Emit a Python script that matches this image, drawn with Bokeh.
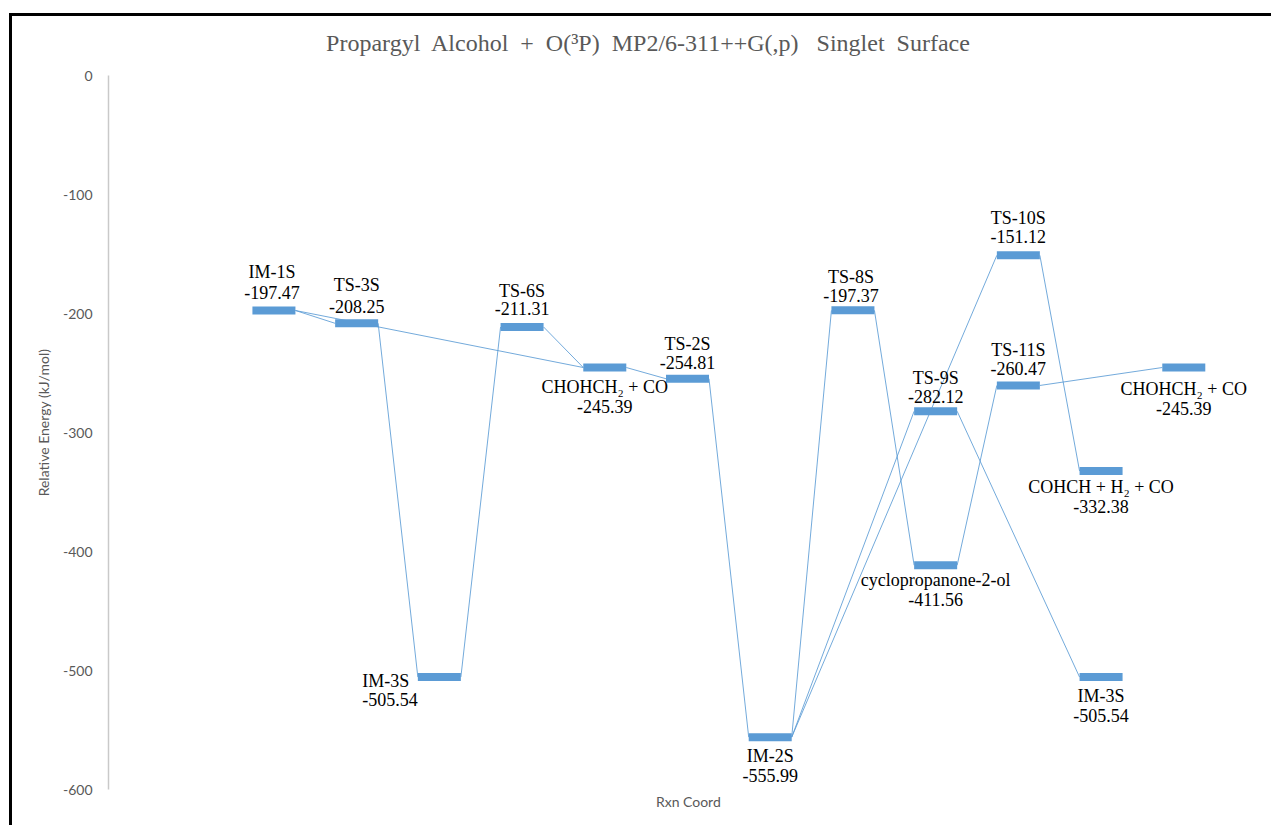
from bokeh.plotting import figure
from bokeh.models import Range1d, FixedTicker, ColumnDataSource, Label
from bokeh.core.properties import value
from bokeh.embed import file_html
from bokeh.resources import INLINE

# Stationary points on the singlet surface
names = ["IM-1S", "TS-3S", "IM-3S", "TS-6S", "CHOHCH₂ + CO", "TS-2S", "IM-2S",
         "TS-8S", "TS-9S", "cyclopropanone-2-ol", "TS-10S", "TS-11S",
         "COHCH + H₂ + CO", "IM-3S", "CHOHCH₂ + CO"]
energies = [-197.47, -208.25, -505.54, -211.31, -245.39, -254.81, -555.99,
            -197.37, -282.12, -411.56, -151.12, -260.47, -332.38, -505.54, -245.39]
rxn_coord = [2, 3, 4, 5, 6, 7, 8, 9, 10, 10, 11, 11, 12, 12, 13]

# Reaction paths: (from state, to state)
paths = [(0, 1), (0, 4), (1, 2), (2, 3), (3, 4), (4, 5), (5, 6), (6, 7), (6, 8),
         (6, 10), (7, 9), (8, 13), (9, 11), (11, 14), (10, 12)]

y_ticks = [0, -100, -200, -300, -400, -500, -600]
y_tick_labels = ["0", "-100", "-200", "-300", "-400", "-500", "-600"]

title_words = ["Propargyl", "Alcohol", "+", "O(³P)", "MP2/6-311++G(,p)", "\u00a0Singlet", "Surface"]

# Label placement per state: (x offset px, name y offset px, value y offset px, align)
label_place = [
    (-2, -38, -18, "center"), (0, -38, -17, "center"), (-77, 4, 22, "left"),
    (0, -36, -18, "center"), (0, 19, 39, "center"), (0, -35, -16, "center"),
    (0, 19, 38, "center"), (-2, -33, -15, "center"), (0, -33, -15, "center"),
    (0, 15, 34, "center"), (0, -37, -19, "center"), (0, -35, -17, "center"),
    (0, 16, 35, "center"), (0, 19, 38, "center"), (0, 21, 41, "center"),
]

HALF = 0.26
BLUE = "#5B9BD5"
GRAY = "#595959"
SERIF = "Liberation Serif"

p = figure(width=1262, height=812, output_backend="svg", toolbar_location=None,
           x_range=Range1d(0, 14.0), y_range=Range1d(-632.77, 49.58),
           min_border_left=96, min_border_right=8, min_border_top=0, min_border_bottom=0,
           background_fill_color="white", border_fill_color="white",
           styles={"margin-left": "9px", "margin-top": "13px",
                   "border-left": "3px solid black", "border-top": "3px solid black"})
p.outline_line_color = None
p.grid.visible = False
p.xaxis.visible = False

ax = p.yaxis[0]
ax.ticker = FixedTicker(ticks=y_ticks)
ax.major_label_overrides = {t: s for t, s in zip(y_ticks, y_tick_labels)}
ax.bounds = (-600, 0)
ax.axis_line_color = "#C9C9C9"
ax.axis_line_width = 1.5
ax.major_tick_line_color = None
ax.minor_tick_line_color = None
ax.major_label_standoff = 10
ax.major_label_text_font = "Lato"
ax.major_label_text_font_size = "14px"
ax.major_label_text_color = GRAY
ax.axis_label = "Relative Energy (kJ/mol)"
ax.axis_label_text_font = "Lato"
ax.axis_label_text_font_style = "normal"
ax.axis_label_text_font_size = "14px"
ax.axis_label_text_color = GRAY
ax.axis_label_standoff = 8

# connecting lines: right end of one level to left end of the next
conn = ColumnDataSource(dict(
    x0=[rxn_coord[a] + HALF for a, b in paths],
    y0=[energies[a] for a, b in paths],
    x1=[rxn_coord[b] - HALF for a, b in paths],
    y1=[energies[b] for a, b in paths],
))
p.segment("x0", "y0", "x1", "y1", source=conn, line_color=BLUE, line_width=1, line_alpha=0.85)

# energy levels
lv = ColumnDataSource(dict(
    x0=[c - HALF for c in rxn_coord], x1=[c + HALF for c in rxn_coord], y=energies,
))
p.segment("x0", "y", "x1", "y", source=lv, line_color=BLUE, line_width=8, line_cap="butt")

# state names and energies
lab = ColumnDataSource(dict(
    x=rxn_coord, y=energies, name=names,
    val=[f"{e:.2f}" for e in energies],
    dx=[lp[0] for lp in label_place],
    dn=[lp[1] for lp in label_place],
    dv=[lp[2] for lp in label_place],
    align=[lp[3] for lp in label_place],
))
for col, off in (("name", "dn"), ("val", "dv")):
    p.text("x", "y", text=col, source=lab, x_offset="dx", y_offset=off,
           text_align="align", text_baseline="middle", text_font=value(SERIF),
           text_font_size="18px", text_color="black")

# widened word spacing in the title (non-breaking spaces survive SVG whitespace collapsing)
p.add_layout(Label(x=6.53, y=26.9, text="\u00a0 ".join(title_words),
                   text_align="center", text_baseline="middle", text_font=SERIF,
                   text_font_size="24px", text_color=GRAY))
p.add_layout(Label(x=7.01, y=-610.1, text="Rxn Coord", text_align="center",
                   text_baseline="middle", text_font="Lato", text_font_size="14px",
                   text_color=GRAY))

open("out.html", "w").write(file_html(p, INLINE))
